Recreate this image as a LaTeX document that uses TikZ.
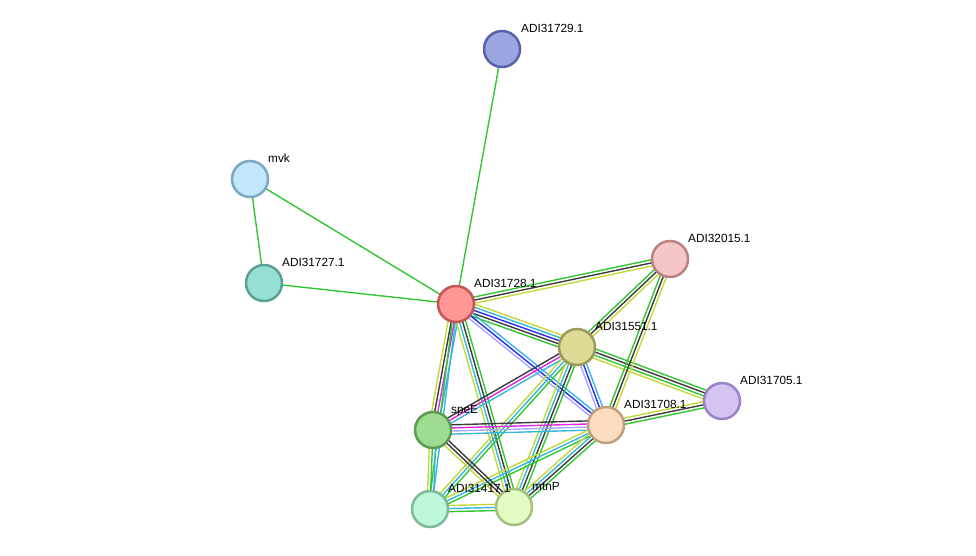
\documentclass[tikz,border=0pt]{standalone}
\usepackage{fontspec}
\setmainfont{Liberation Sans}
\usetikzlibrary{calc}
\pgfdeclarelayer{bg}
\pgfsetlayers{bg,main}
\definecolor{sG}{HTML}{33C533}
\definecolor{sK}{HTML}{3C3C3C}
\definecolor{sY}{HTML}{C4D83A}
\definecolor{sC}{HTML}{35B8DC}
\definecolor{sM}{HTML}{E028E0}
\definecolor{sB}{HTML}{2A2AF0}
\definecolor{sV}{HTML}{A8A8FF}
\tikzset{
  prot/.style={circle, minimum size=36pt, inner sep=0pt, line width=2.5pt},
  lbl/.style={anchor=base west, inner sep=0pt, font=\fontsize{11.8}{13}\selectfont},
  edge/.style={line width=1.4pt},
}
\newcommand\bund[4]{%
  \foreach \col [count=\i] in {#4} {%
    \pgfmathsetmacro\off{(\i-(#3+1)/2)*3.1}%
    \draw[\col, edge] ($(#1)!\off pt!-90:(#2)$) -- ($(#2)!\off pt!90:(#1)$);
  }}
\begin{document}
\begin{tikzpicture}[x=1pt,y=-1pt]
\useasboundingbox (0,0) rectangle (976,555);
\node[prot, fill={rgb,255:red,155;green,165;blue,226}, draw={rgb,255:red,88;green,98;blue,166}] (n29) at (502,49) {};
\node[prot, fill={rgb,255:red,194;green,231;blue,250}, draw={rgb,255:red,124;green,167;blue,194}] (mvk) at (250,179) {};
\node[prot, fill={rgb,255:red,151;green,223;blue,214}, draw={rgb,255:red,89;green,160;blue,150}] (n27) at (264,283) {};
\node[prot, fill={rgb,255:red,255;green,149;blue,149}, draw={rgb,255:red,196;green,86;blue,86}] (n28) at (456,304) {};
\node[prot, fill={rgb,255:red,246;green,198;blue,198}, draw={rgb,255:red,186;green,131;blue,131}] (n15) at (670,259) {};
\node[prot, fill={rgb,255:red,222;green,219;blue,151}, draw={rgb,255:red,156;green,154;blue,88}] (n51) at (577,347) {};
\node[prot, fill={rgb,255:red,212;green,196;blue,244}, draw={rgb,255:red,154;green,131;blue,200}] (n05) at (722,401) {};
\node[prot, fill={rgb,255:red,252;green,220;blue,190}, draw={rgb,255:red,190;green,159;blue,128}] (n08) at (606,425) {};
\node[prot, fill={rgb,255:red,158;green,221;blue,145}, draw={rgb,255:red,93;green,154;blue,82}] (spe) at (433,430) {};
\node[prot, fill={rgb,255:red,190;green,247;blue,217}, draw={rgb,255:red,126;green,185;blue,154}] (n17) at (430,509) {};
\node[prot, fill={rgb,255:red,226;green,251;blue,194}, draw={rgb,255:red,164;green,192;blue,126}] (mtn) at (514,507) {};
\begin{pgfonlayer}{bg}
\bund{n28}{n29}{1}{sG}
\bund{n28}{mvk}{1}{sG}
\bund{n28}{n27}{1}{sG}
\bund{mvk}{n27}{1}{sG}
\bund{n28}{n15}{3}{sG,sK,sY}
\bund{n28}{n51}{5}{sY,sC,sB,sK,sG}
\bund{n28}{n08}{3}{sC,sB,sV}
\bund{n28}{spe}{4}{sC,sM,sK,sY}
\bund{n28}{n17}{2}{sC,sG}
\bund{n28}{mtn}{4}{sG,sK,sC,sY}
\bund{n51}{spe}{3}{sC,sM,sK}
\bund{n51}{n08}{3}{sC,sB,sV}
\bund{n51}{n15}{3}{sG,sK,sY}
\bund{n51}{n05}{4}{sG,sK,sG,sY}
\bund{n51}{n17}{3}{sG,sC,sY}
\bund{n51}{mtn}{4}{sG,sK,sC,sY}
\bund{n15}{n08}{3}{sY,sK,sG}
\bund{n08}{n05}{3}{sY,sK,sG}
\bund{n08}{spe}{4}{sC,sV,sM,sK}
\bund{n08}{n17}{3}{sG,sC,sY}
\bund{n08}{mtn}{4}{sG,sK,sC,sY}
\bund{spe}{n17}{3}{sC,sG,sY}
\bund{spe}{mtn}{3}{sK,sK,sY}
\bund{n17}{mtn}{3}{sY,sC,sG}
\end{pgfonlayer}
\node[lbl] (l29) at ($(n29)+(19,-17)$) {ADI31729.1};
\node[lbl] (lmvk) at ($(mvk)+(18,-17)$) {mvk};
\node[lbl] (l27) at ($(n27)+(18,-17)$) {ADI31727.1};
\node[lbl] (l28) at ($(n28)+(18,-17)$) {ADI31728.1};
\node[lbl] (l15) at ($(n15)+(18,-17)$) {ADI32015.1};
\node[lbl] (l51) at ($(n51)+(18,-17)$) {ADI31551.1};
\node[lbl] (l05) at ($(n05)+(18,-17)$) {ADI31705.1};
\node[lbl] (l08) at ($(n08)+(18,-17)$) {ADI31708.1};
\node[lbl] (lspe) at ($(spe)+(18,-17)$) {speE};
\node[lbl] (l17) at ($(n17)+(18,-17)$) {ADI31417.1};
\node[lbl] (lmtn) at ($(mtn)+(18,-17)$) {mtnP};
\end{tikzpicture}
\end{document}
